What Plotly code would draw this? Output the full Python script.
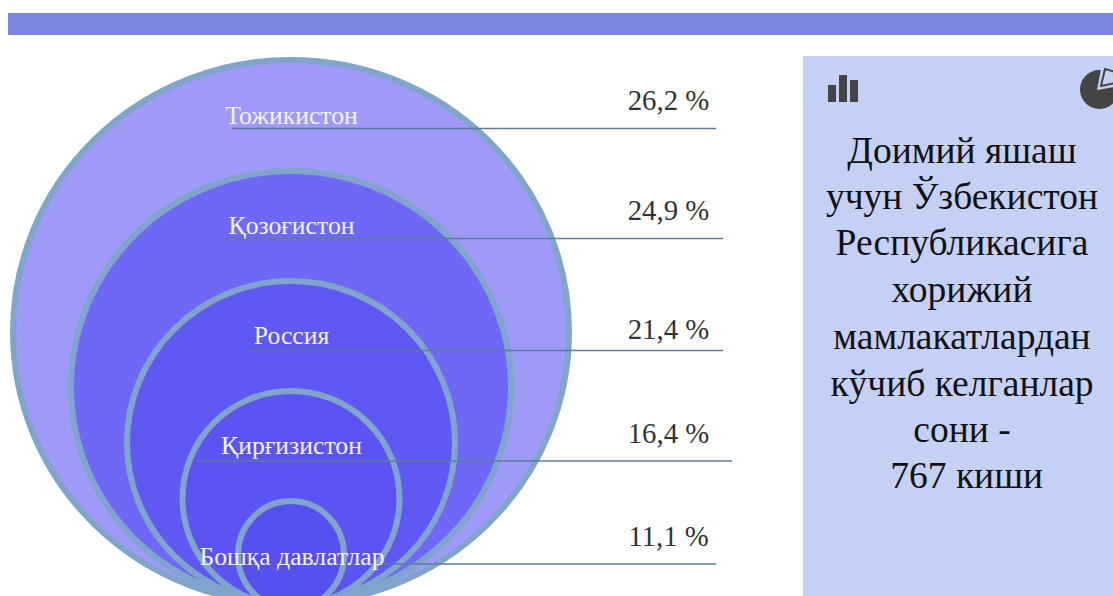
import plotly.graph_objects as go

countries = ["Тожикистон", "Қозоғистон", "Россия", "Қирғизистон", "Бошқа давлатлар"]
shares = [26.2, 24.9, 21.4, 16.4, 11.1]
panel_lines = ["Доимий яшаш", "учун Ўзбекистон", "Республикасига", "хорижий",
               "мамлакатлардан", "кўчиб келганлар", "сони -", " 767 киши"]

# layout geometry in reference pixels
cx = 291
rx = [278, 220, 164, 108.5, 53]
tops = [60, 171, 281, 391, 501]
bottoms = [604, 603, 604, 606, 609]
fills = ["#9f99f8", "#6f68f6", "#5f58f3", "#5b54f2", "#5750f1"]
label_x = [291.5, 291.5, 291.5, 291.5, 292]
label_y = [118, 228, 338, 448, 559]
line_y = [128.5, 238.5, 350.5, 461, 564]
line_x0 = [232, 224, 248, 197, 277]
line_x1 = [716, 723, 723, 732, 716]
pct_x = [668.5, 668.5, 668.5, 668.5, 668.5]
pct_y = [103, 213, 332, 436, 539]
panel_y = [154, 200, 246, 293, 340, 387, 433, 479]
FONT = "Liberation Serif"

fig = go.Figure()
shapes = [
    dict(type="rect", x0=8, x1=1113, y0=13, y1=35, fillcolor="#7c88e1", line=dict(width=0), layer="below"),
    dict(type="rect", x0=803, x1=1113, y0=56, y1=596, fillcolor="#c5d0f5", line=dict(width=0), layer="below"),
]
for r, t, b, f in zip(rx, tops, bottoms, fills):
    shapes.append(dict(type="circle", x0=cx - r, x1=cx + r, y0=t, y1=b,
                       fillcolor=f, line=dict(color="#7fa5ca", width=6), layer="below"))
# bar icon
for x0, x1, y0 in [(828, 836, 85), (839, 847, 75), (850, 858, 80)]:
    shapes.append(dict(type="rect", x0=x0, x1=x1, y0=y0, y1=102, fillcolor="#444444", line=dict(width=0)))
# pie icon
shapes.append(dict(type="circle", x0=1080, x1=1119, y0=70, y1=109, fillcolor="#444444", line=dict(width=0)))
shapes.append(dict(type="path", path="M 1097 90 L 1102 64 L 1120 64 L 1120 86 Z",
                   fillcolor="#c5d0f5", line=dict(width=0)))
shapes.append(dict(type="path", path="M 1101 86 L 1105 69 L 1116 72 L 1116 83 Z",
                   fillcolor="#c5d0f5", line=dict(color="#444444", width=2)))

for i, c in enumerate(countries):
    fig.add_trace(go.Scatter(x=[line_x0[i], line_x1[i]], y=[line_y[i], line_y[i]], mode="lines",
                             line=dict(color="#5b7d9d", width=1.3), hoverinfo="skip", showlegend=False))
    fig.add_trace(go.Scatter(x=[label_x[i]], y=[label_y[i]], mode="text", text=[c],
                             textfont=dict(family=FONT, size=25.7, color="#f2f2fc"),
                             showlegend=False, cliponaxis=False))
    txt = f"{shares[i]:.1f} %".replace(".", ",")
    fig.add_trace(go.Scatter(x=[pct_x[i]], y=[pct_y[i]], mode="text", text=[txt],
                             textfont=dict(family=FONT, size=28.8, color="#333333"),
                             showlegend=False))
for t, y in zip(panel_lines, panel_y):
    fig.add_trace(go.Scatter(x=[962], y=[y], mode="text", text=[t],
                             textfont=dict(family=FONT, size=37.5, color="#111111"),
                             showlegend=False))

fig.update_layout(
    width=1113, height=596, margin=dict(l=0, r=0, t=0, b=0),
    paper_bgcolor="white", plot_bgcolor="white", shapes=shapes,
    xaxis=dict(range=[0, 1113], visible=False, fixedrange=True),
    yaxis=dict(range=[596, 0], visible=False, fixedrange=True),
)
fig.write_html("out.html", config=dict(displayModeBar=False),
               post_script="document.body.style.margin='0';document.body.style.overflow='hidden';")
